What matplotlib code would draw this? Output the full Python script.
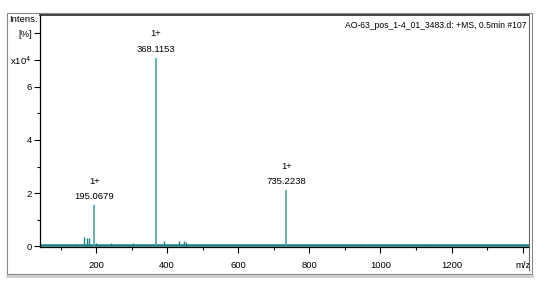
import matplotlib
matplotlib.use("Agg")
import matplotlib.pyplot as plt
from matplotlib.lines import Line2D
from matplotlib.patches import Rectangle
from matplotlib.ticker import MultipleLocator
from matplotlib import font_manager

names = {f.name for f in font_manager.fontManager.ttflist}
fam = ['Liberation Sans Narrow'] if 'Liberation Sans Narrow' in names else []
plt.rcParams['font.family'] = fam + ['Liberation Sans', 'DejaVu Sans']

# labelled peaks (m/z, intensity in 1e4)
main_mz = [195.0679, 368.1153, 735.2238]
main_int = [1.54, 7.08, 2.12]
main_labels = ["195.0679", "368.1153", "735.2238"]
charge = ["1+", "1+", "1+"]

# minor peaks
minor_mz = [141, 166, 175, 180, 200, 211, 242, 262, 290, 304, 329,
            391, 399, 413, 434, 448, 453, 568, 577,
            754, 762, 778, 942, 947, 1118, 1126, 1133]
minor_int = [0.1, 0.35, 0.33, 0.3, 0.12, 0.06, 0.12, 0.05, 0.05, 0.12, 0.05,
             0.22, 0.1, 0.05, 0.2, 0.2, 0.15, 0.05, 0.05,
             0.06, 0.06, 0.04, 0.08, 0.05, 0.06, 0.1, 0.08]

title = "AO-63_pos_1-4_01_3483.d: +MS, 0.5min #107"
ytick_vals = [0, 2, 4, 6, 7, 8]
ytick_labels = ["0", "2", "4", "6", "x10$^4$", "[%]"]
xtick_vals = [200, 400, 600, 800, 1000, 1200, 1400]
xtick_labels = ["200", "400", "600", "800", "1000", "1200", "m/z"]

W, H = 541, 283
fig = plt.figure(figsize=(W / 100, H / 100), dpi=100)
fig.patch.set_facecolor("white")

L, R, T, B = 40, 529, 15, 247
ax = fig.add_axes([L / W, (H - B) / H, (R - L) / W, (B - T) / H])

teal = "#1f8080"
light = "#4aa6a6"
ax.axhline(0.04, color=teal, lw=1.8, zorder=2)
ax.vlines(minor_mz, 0, minor_int, color=teal, lw=1.0, zorder=3)
ax.vlines(main_mz, 0, main_int, color=light, lw=1.2, zorder=3)

fs = 6.8
for mz, it, lab, ch in zip(main_mz, main_int, main_labels, charge):
    ax.annotate(lab, (mz, it), xytext=(0, 3), textcoords="offset points",
                ha="center", va="bottom", fontsize=fs)
    ax.annotate(ch, (mz, it), xytext=(0, 14), textcoords="offset points",
                ha="center", va="bottom", fontsize=fs)

ax.set_xlim(42.3, 1418)
ax.set_ylim(-0.02, 8.69)
ax.set_xticks(xtick_vals)
ax.set_xticklabels(xtick_labels, fontsize=fs)
ax.xaxis.set_minor_locator(MultipleLocator(100))
ax.set_yticks(ytick_vals)
ax.set_yticklabels(ytick_labels, fontsize=fs)
ax.yaxis.set_minor_locator(MultipleLocator(1))
ax.tick_params(axis="both", which="major", length=4, width=0.8, direction="out", pad=2)
ax.tick_params(axis="both", which="minor", length=2.5, width=0.8, direction="out")
ax.tick_params(axis="x", pad=6)

for s in ["top", "right"]:
    ax.spines[s].set_visible(False)
ax.spines["left"].set_linewidth(0.9)
ax.spines["bottom"].set_linewidth(0.9)

ax.text(0.995, 0.975, title, transform=ax.transAxes, ha="right", va="top", fontsize=6.2)
fig.text(9 / W, 1 - 19 / H, "Intens.", ha="left", va="center", fontsize=fs)

# outer frames
fig.add_artist(Rectangle((7 / W, 1 - 274 / H), (532 - 7) / W, (274 - 13) / H,
                         transform=fig.transFigure, fill=False, ec="#888888", lw=0.8))
fig.add_artist(Line2D([L / W, R / W], [1 - T / H, 1 - T / H], transform=fig.transFigure,
                      color="#222222", lw=1.2))
fig.add_artist(Line2D([R / W, R / W], [1 - T / H, 1 - 270 / H], transform=fig.transFigure,
                      color="#666666", lw=0.8))
fig.add_artist(Line2D([7 / W, 532 / W], [1 - 276 / H, 1 - 276 / H], transform=fig.transFigure,
                      color="#cccccc", lw=2))

fig.savefig("out.png", dpi=100)
